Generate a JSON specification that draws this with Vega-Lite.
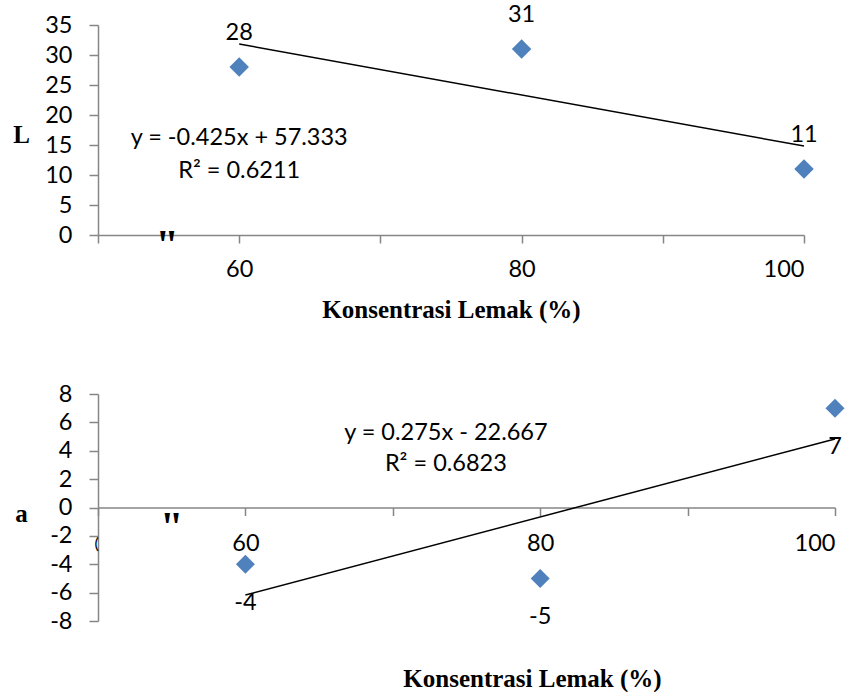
{
  "$schema": "https://vega.github.io/schema/vega-lite/v6.json",
  "background": "white",
  "padding": {"left": 12, "top": 3, "right": 5, "bottom": 0},
  "columns": 1,
  "spacing": 60,
  "datasets": {
    "L": [{"x": 60, "y": 28}, {"x": 80, "y": 31}, {"x": 100, "y": 11}],
    "a": [{"x": 60, "y": -4}, {"x": 80, "y": -5}, {"x": 100, "y": 7}],
    "Lnote": [{"x": 60, "y": 16.2, "text": "y = -0.425x + 57.333"}, {"x": 60, "y": 10.7, "text": "R² = 0.6211"}],
    "anote": [{"x": 73.6, "y": 5.25, "text": "y = 0.275x - 22.667"}, {"x": 73.6, "y": 3.1, "text": "R² = 0.6823"}],
    "Lmark": [{"x": 54.9, "y": 0, "text": "\""}],
    "amark": [{"x": 55.0, "y": -0.67, "text": "\""}],
    "aparen": [{"x": 49.9, "y": -2.6, "text": "("}]
  },
  "config": {
    "view": {"stroke": null},
    "axis": {
      "grid": false,
      "domainColor": "#868686",
      "tickColor": "#868686",
      "domainWidth": 1.5,
      "tickWidth": 1.5,
      "labelFont": "Lato",
      "labelFontSize": 23.5,
      "labelColor": "black",
      "titleFont": "Liberation Serif",
      "titleFontSize": 25,
      "titleFontWeight": "bold",
      "titleColor": "black"
    }
  },
  "concat": [
    {
      "width": 706,
      "height": 210,
      "encoding": {
        "x": {"field": "x", "type": "quantitative", "scale": {"domain": [50, 100], "nice": false, "zero": false},
          "axis": {"values": [50, 60, 70, 80, 90, 100], "labelExpr": "datum.value % 20 == 0 ? toString(datum.value) : ''", "labelOverlap": false, "tickSize": 8, "labelPadding": 14,
            "title": "Konsentrasi Lemak (%)", "titleY": 74, "titleBaseline": "middle"}},
        "y": {"field": "y", "type": "quantitative", "scale": {"domain": [0, 35], "nice": false},
          "axis": {"values": [0, 5, 10, 15, 20, 25, 30, 35], "labelOverlap": false, "labelBound": false, "labelFlush": false, "tickSize": 9, "labelPadding": 17,
            "title": "L", "titleAngle": 0, "titleX": -77, "titleY": 109, "titleAlign": "center", "titleBaseline": "middle"}}
      },
      "layer": [
        {
          "data": {"name": "L"},
          "mark": {"type": "point", "shape": "diamond", "filled": true, "color": "#4F81BD", "opacity": 1, "size": 380}
        },
        {
          "data": {"name": "L"},
          "mark": {"type": "text", "font": "Lato", "fontSize": 23.5, "color": "black", "dy": -34, "baseline": "middle"},
          "encoding": {"text": {"field": "y", "type": "nominal"}}
        },
        {
          "data": {"name": "L"},
          "transform": [{"regression": "y", "on": "x", "extent": [60, 100]}],
          "mark": {"type": "line", "color": "black", "strokeWidth": 1.5}
        },
        {
          "data": {"name": "Lnote"},
          "mark": {"type": "text", "font": "Lato", "fontSize": 23.5, "color": "black", "baseline": "middle"},
          "encoding": {"text": {"field": "text"}}
        },
        {
          "data": {"name": "Lmark"},
          "mark": {"type": "text", "font": "Liberation Serif", "fontWeight": "bold", "fontSize": 42, "color": "black", "baseline": "alphabetic", "dy": 24},
          "encoding": {"text": {"field": "text"}}
        }
      ]
    },
    {
      "width": 737,
      "height": 227,
      "encoding": {
        "x": {"field": "x", "type": "quantitative", "scale": {"domain": [50, 100], "nice": false, "zero": false},
          "axis": {"values": [50, 60, 70, 80, 90, 100], "labelExpr": "datum.value % 20 == 0 ? toString(datum.value) : ''", "labelOverlap": false, "tickSize": 8, "labelPadding": 16, "offset": -113.5,
            "title": "Konsentrasi Lemak (%)", "titleY": 171, "titleX": 434, "titleBaseline": "middle"}},
        "y": {"field": "y", "type": "quantitative", "scale": {"domain": [-8, 8], "nice": false},
          "axis": {"values": [-8, -6, -4, -2, 0, 2, 4, 6, 8], "labelExpr": "replace(datum.label, '\u2212', '-')", "labelOverlap": false, "labelBound": false, "labelFlush": false, "tickSize": 9, "labelPadding": 17,
            "title": "a", "titleAngle": 0, "titleX": -77, "titleY": 119, "titleAlign": "center", "titleBaseline": "middle"}}
      },
      "layer": [
        {
          "data": {"name": "a"},
          "mark": {"type": "point", "shape": "diamond", "filled": true, "color": "#4F81BD", "opacity": 1, "size": 360}
        },
        {
          "data": {"name": "a"},
          "mark": {"type": "text", "font": "Lato", "fontSize": 23.5, "color": "black", "dy": 39, "baseline": "middle"},
          "encoding": {"text": {"field": "y", "type": "nominal"}}
        },
        {
          "data": {"name": "a"},
          "transform": [{"regression": "y", "on": "x", "extent": [60, 100]}],
          "mark": {"type": "line", "color": "black", "strokeWidth": 1.5}
        },
        {
          "data": {"name": "anote"},
          "mark": {"type": "text", "font": "Lato", "fontSize": 23.5, "color": "black", "baseline": "middle"},
          "encoding": {"text": {"field": "text"}}
        },
        {
          "data": {"name": "amark"},
          "mark": {"type": "text", "font": "Liberation Serif", "fontWeight": "bold", "fontSize": 42, "color": "black", "baseline": "alphabetic", "dy": 24},
          "encoding": {"text": {"field": "text"}}
        },
        {
          "data": {"name": "aparen"},
          "mark": {"type": "text", "font": "Lato", "fontSize": 16, "color": "black", "baseline": "middle"},
          "encoding": {"text": {"field": "text"}}
        }
      ]
    }
  ]
}
